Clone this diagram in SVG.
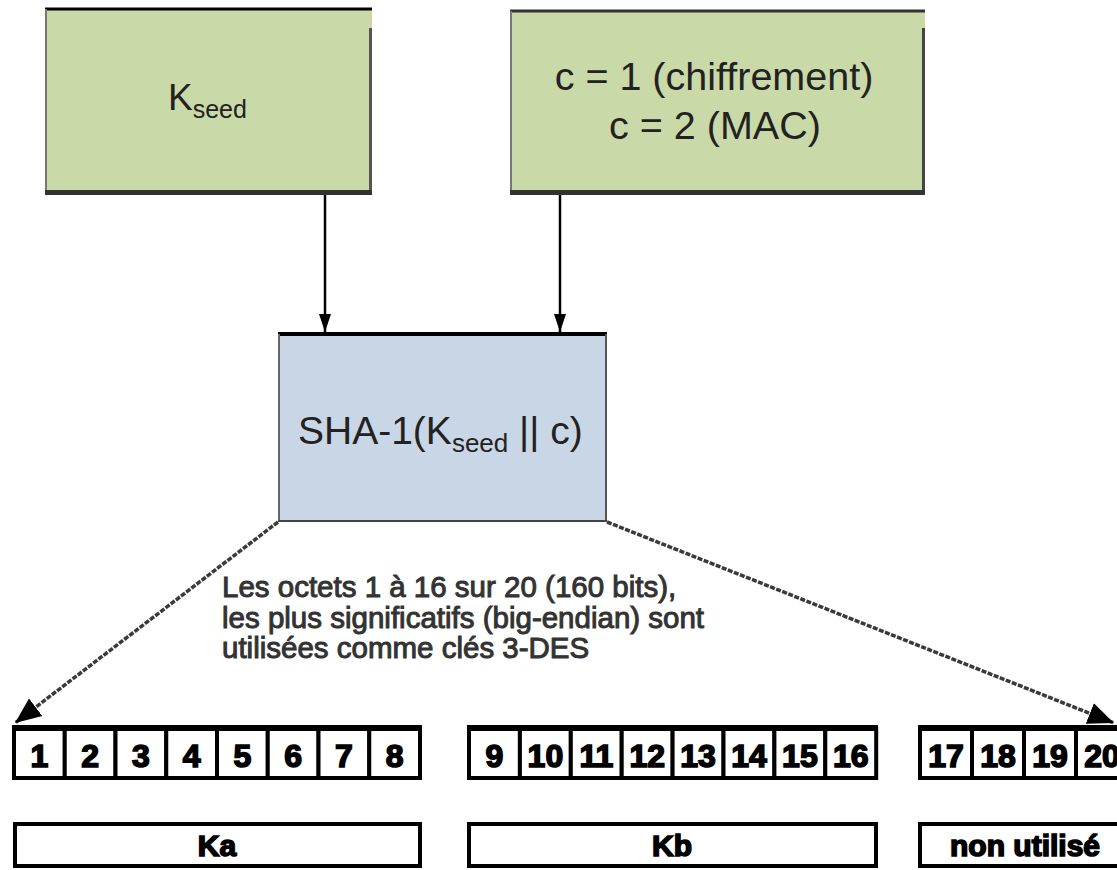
<svg xmlns="http://www.w3.org/2000/svg" width="1117" height="870" viewBox="0 0 1117 870">
<style>
.green{fill:#cad9a8;}
.blue{fill:#c9d6e5;}
.lbl{font-family:"Liberation Sans",Arial,sans-serif;fill:#222;}
.desc{font-family:"Liberation Sans",Arial,sans-serif;font-size:29.5px;fill:#333;stroke:#333;stroke-width:1px;}
.cell{fill:#fff;stroke:#000;stroke-width:4;}
.num{font-family:"Liberation Sans",Arial,sans-serif;font-weight:bold;font-size:32px;fill:#000;stroke:#000;stroke-width:1.6;text-anchor:middle;}
.key{font-family:"Liberation Sans",Arial,sans-serif;font-weight:bold;font-size:30px;fill:#000;stroke:#000;stroke-width:1.6;text-anchor:middle;}
.vline{stroke:#000;stroke-width:2.5;fill:none;}
.dline{stroke:#3a3a3a;stroke-width:3.5;fill:none;stroke-dasharray:5 1.5;}
</style>
<defs>
<marker id="ah" markerUnits="userSpaceOnUse" markerWidth="18" markerHeight="24" refX="18" refY="7" orient="auto">
<path d="M0,1 L18,7 L0,13 Z" fill="#000"/>
</marker>
<marker id="ahd" markerUnits="userSpaceOnUse" markerWidth="28" markerHeight="24" refX="26" refY="12" orient="auto">
<path d="M0,1 L26,12 L0,23 Z" fill="#000"/>
</marker>
</defs>

<g id="kseed">
<rect class="green" x="45" y="8" width="327" height="187"/>
<line x1="45" y1="9" x2="372" y2="9" stroke="#000" stroke-width="3"/>
<line x1="46" y1="9" x2="46" y2="192" stroke="#777" stroke-width="2"/>
<line x1="370.5" y1="28" x2="370.5" y2="192" stroke="#555" stroke-width="3"/>
<line x1="45" y1="192.5" x2="372" y2="192.5" stroke="#333" stroke-width="5"/>
<text class="lbl" x="168" y="110" font-size="37">K<tspan font-size="25" dy="8">seed</tspan></text>
</g>

<g id="cvalue">
<rect class="green" x="510" y="10" width="415" height="185"/>
<line x1="510" y1="11" x2="925" y2="11" stroke="#333" stroke-width="3"/>
<line x1="511" y1="11" x2="511" y2="192" stroke="#777" stroke-width="2"/>
<line x1="923.5" y1="28" x2="923.5" y2="192" stroke="#444" stroke-width="3"/>
<line x1="510" y1="192.5" x2="925" y2="192.5" stroke="#333" stroke-width="5"/>
<text class="lbl" x="714" y="90" font-size="39.5" text-anchor="middle">c = 1 (chiffrement)</text>
<text class="lbl" x="715" y="139" font-size="39.5" text-anchor="middle">c = 2 (MAC)</text>
</g>

<g id="sha1">
<rect class="blue" x="278" y="332" width="329" height="190"/>
<line x1="278" y1="334" x2="607" y2="334" stroke="#000" stroke-width="4"/>
<line x1="279" y1="334" x2="279" y2="521" stroke="#666" stroke-width="2"/>
<line x1="606" y1="334" x2="606" y2="521" stroke="#555" stroke-width="2"/>
<line x1="278" y1="521" x2="607" y2="521" stroke="#444" stroke-width="2"/>
<text class="lbl" x="298" y="444" font-size="39">SHA-1(K<tspan font-size="26" dy="8">seed</tspan><tspan dy="-8"> || c)</tspan></text>
</g>

<g id="connectors">
<line class="vline" x1="325" y1="195" x2="325" y2="332" marker-end="url(#ah)"/>
<line class="vline" x1="560" y1="195" x2="560" y2="332" marker-end="url(#ah)"/>
<line class="dline" x1="278" y1="522" x2="15" y2="723" marker-end="url(#ahd)"/>
<line class="dline" x1="607" y1="522" x2="1114" y2="723" marker-end="url(#ahd)"/>
</g>

<g id="description">
<text class="desc" x="222" y="597">Les octets 1 à 16 sur 20 (160 bits),</text>
<text class="desc" x="222" y="628">les plus significatifs (big-endian) sont</text>
<text class="desc" x="222" y="658">utilisées comme clés 3-DES</text>
</g>

<g id="bytes-1-8">
<rect class="cell" x="14" y="729" width="50.75" height="49"/>
<rect class="cell" x="64.75" y="729" width="50.75" height="49"/>
<rect class="cell" x="115.5" y="729" width="50.75" height="49"/>
<rect class="cell" x="166.25" y="729" width="50.75" height="49"/>
<rect class="cell" x="217" y="729" width="50.75" height="49"/>
<rect class="cell" x="267.75" y="729" width="50.75" height="49"/>
<rect class="cell" x="318.5" y="729" width="50.75" height="49"/>
<rect class="cell" x="369.25" y="729" width="50.75" height="49"/>
<line x1="12" y1="728" x2="422" y2="728" stroke="#000" stroke-width="6"/>
<text class="num" x="39.4" y="767">1</text>
<text class="num" x="90.1" y="767">2</text>
<text class="num" x="140.9" y="767">3</text>
<text class="num" x="191.6" y="767">4</text>
<text class="num" x="242.4" y="767">5</text>
<text class="num" x="293.1" y="767">6</text>
<text class="num" x="343.9" y="767">7</text>
<text class="num" x="394.6" y="767">8</text>
</g>

<g id="bytes-9-16">
<rect class="cell" x="469" y="729" width="50.9" height="49"/>
<rect class="cell" x="519.9" y="729" width="50.9" height="49"/>
<rect class="cell" x="570.8" y="729" width="50.9" height="49"/>
<rect class="cell" x="621.7" y="729" width="50.9" height="49"/>
<rect class="cell" x="672.6" y="729" width="50.9" height="49"/>
<rect class="cell" x="723.5" y="729" width="50.9" height="49"/>
<rect class="cell" x="774.4" y="729" width="50.9" height="49"/>
<rect class="cell" x="825.3" y="729" width="50.9" height="49"/>
<line x1="467" y1="728" x2="878" y2="728" stroke="#000" stroke-width="6"/>
<text class="num" x="494.5" y="767">9</text>
<text class="num" x="545.4" y="767">10</text>
<text class="num" x="596.3" y="767">11</text>
<text class="num" x="647.2" y="767">12</text>
<text class="num" x="698.1" y="767">13</text>
<text class="num" x="749" y="767">14</text>
<text class="num" x="799.9" y="767">15</text>
<text class="num" x="850.8" y="767">16</text>
</g>

<g id="bytes-17-20">
<rect class="cell" x="920" y="729" width="52" height="49"/>
<rect class="cell" x="972" y="729" width="52" height="49"/>
<rect class="cell" x="1024" y="729" width="52" height="49"/>
<rect class="cell" x="1076" y="729" width="52" height="49"/>
<line x1="918" y1="728" x2="1117" y2="728" stroke="#000" stroke-width="6"/>
<text class="num" x="946" y="767">17</text>
<text class="num" x="998" y="767">18</text>
<text class="num" x="1050" y="767">19</text>
<text class="num" x="1102" y="767">20</text>
</g>

<g id="ka">
<rect class="cell" x="15" y="824" width="405" height="42"/>
<text class="key" x="217" y="856">Ka</text>
</g>

<g id="kb">
<rect class="cell" x="469" y="824" width="407" height="42"/>
<text class="key" x="672" y="856">Kb</text>
</g>

<g id="unused">
<rect class="cell" x="920" y="824" width="210" height="42"/>
<text class="key" x="1025" y="856">non utilisé</text>
</g>
</svg>
